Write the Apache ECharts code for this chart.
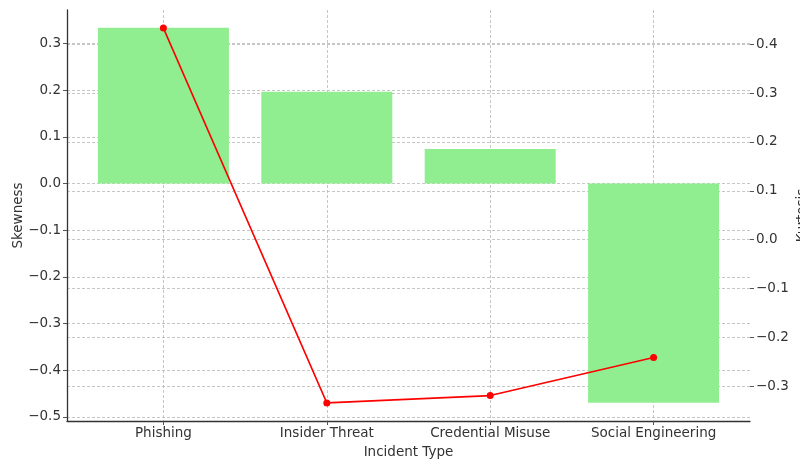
<!DOCTYPE html>
<html>
<head>
<meta charset="utf-8">
<script src="https://cdn.jsdelivr.net/npm/echarts@6/dist/echarts.min.js"></script>
<style>html,body{margin:0;padding:0;background:#fff}#c{width:800px;height:459px}</style>
</head>
<body>
<div id="c"></div>
<script>
const categories = ['Phishing', 'Insider Threat', 'Credential Misuse', 'Social Engineering'];
const skewness = [0.334, 0.197, 0.074, -0.470];
const kurtosis = [0.433, -0.334, -0.319, -0.241];
const skewTicks = [-0.5, -0.4, -0.3, -0.2, -0.1, 0.0, 0.1, 0.2, 0.3];
const kurtTicks = [-0.3, -0.2, -0.1, 0.0, 0.1, 0.2, 0.3, 0.4];
const catPositions = categories.map((c, i) => i);

const FONT = 'DejaVu Sans';
const TXT = '#333';
const fmt = v => { const r = Math.round(v * 10) / 10; return (r < 0 ? '\u2212' : '') + Math.abs(r).toFixed(1); };
const gridLine = { show: true, lineStyle: { color: '#b8b8b8', type: [3, 2], width: 0.8 } };

const chart = echarts.init(document.getElementById('c'), null, { renderer: 'canvas' });
chart.setOption({
  animation: false,
  backgroundColor: '#fff',
  grid: { left: 67, right: 50, top: 10, bottom: 38, containLabel: false, outerBoundsMode: 'none' },
  xAxis: {
    type: 'value', min: -0.59, max: 3.59,
    name: 'Incident Type', nameLocation: 'middle', nameGap: 24, nameMoveOverlap: false,
    nameTextStyle: { fontFamily: FONT, fontSize: 13.5, color: TXT },
    axisLine: { show: true, onZero: false, lineStyle: { color: '#333', width: 1.3 } },
    axisTick: { show: true, length: 4, customValues: catPositions, lineStyle: { color: '#555' } },
    axisLabel: { customValues: catPositions, margin: 5, fontFamily: FONT, fontSize: 13.5, color: TXT,
      formatter: v => categories[Math.round(v)] },
    splitLine: gridLine
  },
  yAxis: [
    {
      type: 'value', min: -0.509, max: 0.372, position: 'left',
      name: 'Skewness', nameLocation: 'middle', nameRotate: 90, nameGap: 42, nameMoveOverlap: false,
      nameTextStyle: { fontFamily: FONT, fontSize: 13.5, color: TXT },
      axisLine: { show: true, onZero: false, lineStyle: { color: '#333', width: 1.3 } },
      axisTick: { show: true, length: 4, customValues: skewTicks, lineStyle: { color: '#555' } },
      axisLabel: { customValues: skewTicks, margin: 6, fontFamily: FONT, fontSize: 13.5, color: TXT, formatter: fmt },
      splitLine: gridLine
    },
    {
      type: 'value', min: -0.371, max: 0.470, position: 'right',
      name: 'Kurtosis', nameLocation: 'middle', nameRotate: 90, nameGap: 45, nameMoveOverlap: false,
      nameTextStyle: { fontFamily: FONT, fontSize: 13.5, color: TXT },
      axisLine: { show: false, onZero: false },
      axisTick: { show: true, length: 4, customValues: kurtTicks, lineStyle: { color: '#555' } },
      axisLabel: { customValues: kurtTicks, margin: 6, fontFamily: FONT, fontSize: 13.5, color: TXT, formatter: fmt },
      splitLine: gridLine
    }
  ],
  series: [
    {
      type: 'bar', yAxisIndex: 0, barWidth: 131,
      itemStyle: { color: '#90ee90' },
      data: skewness.map((v, i) => [i, v]),
      z: 2
    },
    {
      type: 'line', yAxisIndex: 1,
      lineStyle: { color: '#ff0000', width: 1.6 },
      itemStyle: { color: '#ff0000' },
      symbol: 'circle', symbolSize: 7,
      data: kurtosis.map((v, i) => [i, v]),
      z: 3
    }
  ]
});
</script>
</body>
</html>
